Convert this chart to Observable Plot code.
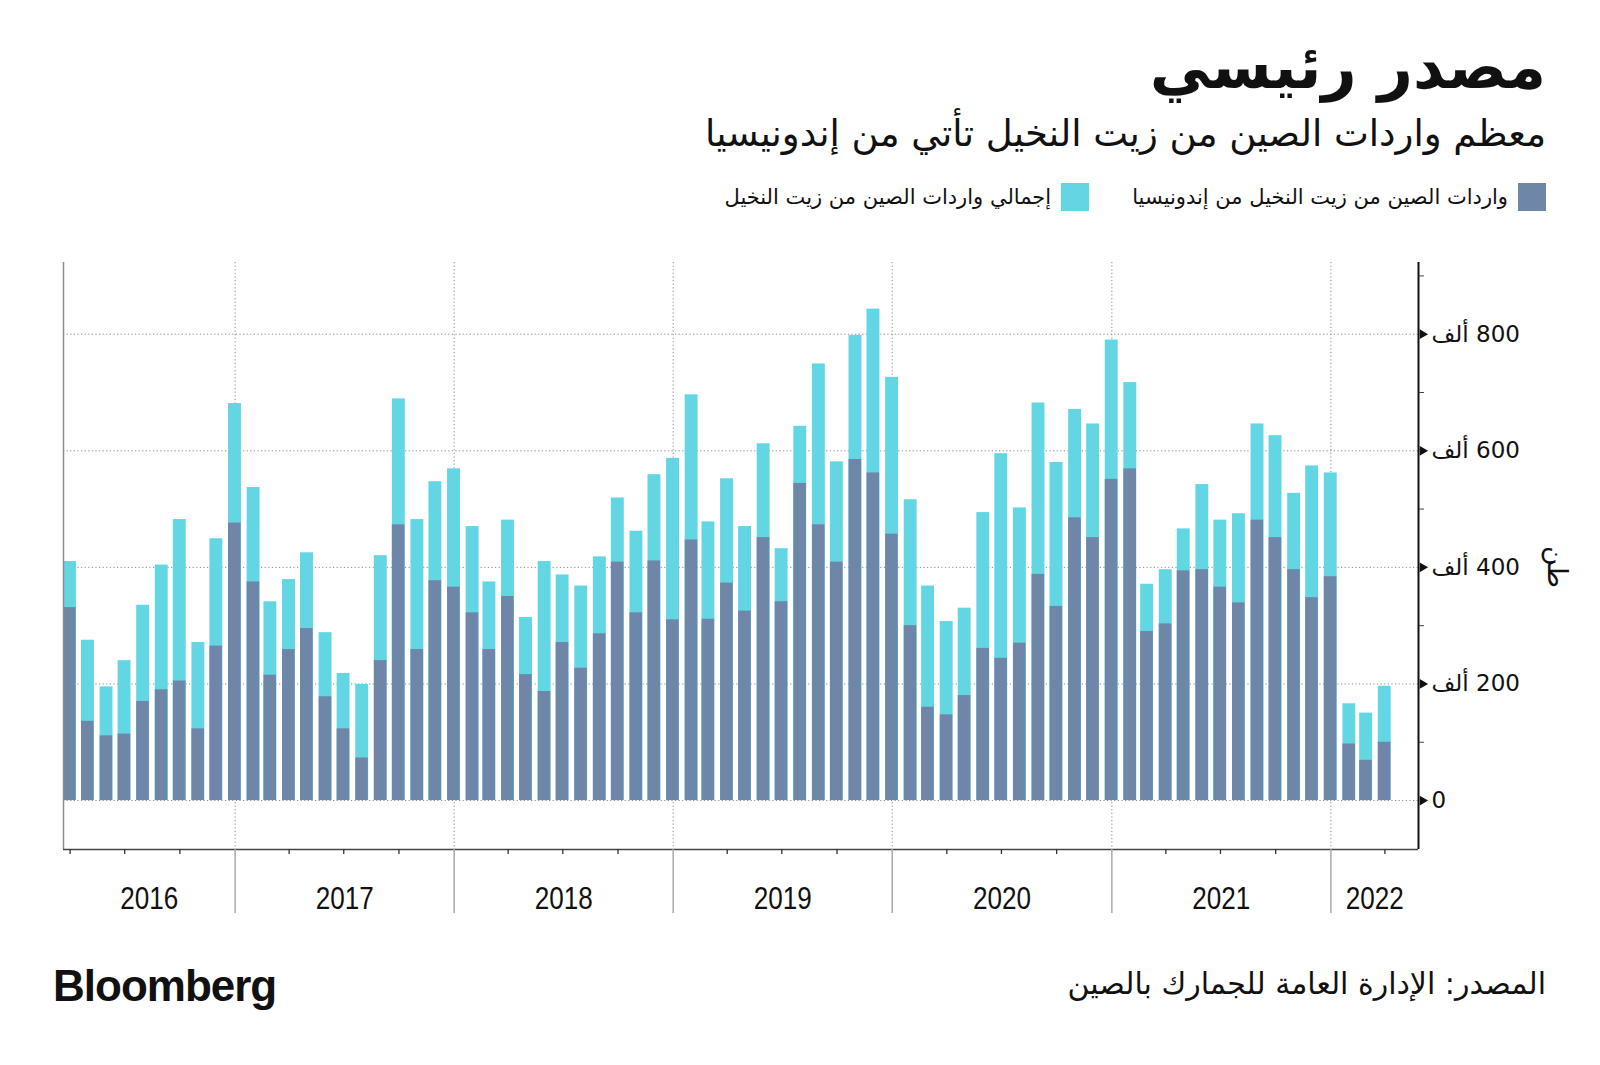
<!DOCTYPE html>
<html lang="ar">
<head>
<meta charset="utf-8">
<script src="https://cdn.jsdelivr.net/npm/d3@7"></script>
<script src="https://cdn.jsdelivr.net/npm/@observablehq/plot@0.6"></script>
<style>
  html, body { margin: 0; padding: 0; background: #fff; }
  #page { position: relative; width: 1600px; height: 1065px; overflow: hidden; font-family: "DejaVu Sans", "Noto Sans", sans-serif; color: #111; }
  .rtl { direction: rtl; position: absolute; right: 54px; white-space: nowrap; line-height: 1; }
  #title { top: 36px; font-size: 61px; font-weight: 900; }
  #subtitle { top: 115px; font-size: 37px; }
  #legend { top: 183px; display: flex; align-items: center; font-size: 21px; }
  .sw { width: 28px; height: 28px; display: inline-block; margin-left: 10px; }
  .item { display: flex; align-items: center; margin-left: 43px; }
  #source { top: 969px; font-size: 30px; }
  #brand { position: absolute; left: 53px; top: 961px; font-family: "Liberation Sans", Arial, sans-serif; font-weight: 700; font-size: 44px; letter-spacing: -1px; }
  #chart { position: absolute; left: 0; top: 240px; }
</style>
</head>
<body>
<div id="page">
  <div id="title" class="rtl">مصدر رئيسي</div>
  <div id="subtitle" class="rtl">معظم واردات الصين من زيت النخيل تأتي من إندونيسيا</div>
  <div id="legend" class="rtl"></div>
  <div id="chart"></div>
  <div id="brand">Bloomberg</div>
  <div id="source" class="rtl">المصدر: الإدارة العامة للجمارك بالصين</div>
</div>
<script>
// Monthly data, thousand tonnes (March 2016 – March 2022)
const firstMonth = "2016-03";
const lastMonth = "2022-03";
const totalImports = [410,275,195,240,335,404,482,271,449,681,537,341,379,425,288,218,199,420,689,482,547,569,470,375,481,314,410,387,368,418,519,462,559,587,696,478,552,470,612,432,642,749,581,798,843,726,516,368,307,330,494,595,502,682,580,671,646,790,717,371,396,466,542,481,492,646,626,527,574,562,166,150,196];
const indonesiaImports = [331,136,111,114,170,190,205,123,265,476,375,215,259,295,178,123,73,240,473,259,377,366,322,259,350,216,187,271,227,286,409,322,411,310,447,311,373,325,451,341,544,473,409,585,562,457,300,160,147,180,261,244,270,388,333,485,451,551,569,290,303,394,396,366,339,481,451,396,348,384,97,69,100];
const seriesNames = ["واردات الصين من زيت النخيل من إندونيسيا", "إجمالي واردات الصين من زيت النخيل"];
const seriesColors = ["#6e86a8", "#63d6e4"];
const yTicks = [0, 200, 400, 600, 800];
const yMinorTicks = [100, 300, 500, 700, 900];
const yearLabels = ["2016", "2017", "2018", "2019", "2020", "2021", "2022"];
const unitLabel = "طن";
const thousandWord = "ألف";

// Legend
const legend = document.getElementById("legend");
seriesNames.forEach((name, i) => {
  const it = document.createElement("div");
  it.className = "item";
  it.innerHTML = `<span class="sw" style="background:${seriesColors[i]}"></span><span>${name}</span>`;
  legend.appendChild(it);
});

// Build table
const parseMonth = d3.utcParse("%Y-%m");
const months = d3.utcMonth.range(parseMonth(firstMonth), d3.utcMonth.offset(parseMonth(lastMonth), 1));
const rows = months.map((m, i) => ({
  date: d3.utcHour.offset(d3.utcMonth.offset(m, 1), -12), // month end
  total: totalImports[i],
  indo: indonesiaImports[i]
}));

const xDomain = [new Date(Date.UTC(2016, 2, 21)), new Date(Date.UTC(2022, 4, 27))];
const yDomain = [-84, 923];
const yearStarts = yearLabels.map(y => new Date(Date.UTC(+y, 0, 1))).filter(d => d > xDomain[0] && d < xDomain[1]);
const quarterTicks = d3.utcMonth.every(3).range(xDomain[0], xDomain[1]).filter(d => d.getUTCMonth() !== 0);
const yearRows = yearLabels.map(y => {
  const a = new Date(Date.UTC(+y, 0, 1)), b = new Date(Date.UTC(+y + 1, 0, 1));
  const s = a < xDomain[0] ? xDomain[0] : a, e = b > xDomain[1] ? xDomain[1] : b;
  return {label: y, mid: new Date((+s + +e) / 2)};
});

const half = 252; // hours, half bar width
const dotted = {stroke: "#8a8a8a", strokeWidth: 1, strokeDasharray: "1.2,2.4"};

const chart = Plot.plot({
  width: 1600,
  height: 700,
  marginTop: 22,
  marginBottom: 91,
  marginLeft: 63,
  marginRight: 182,
  style: {background: "transparent", overflow: "visible"},
  x: {type: "utc", domain: xDomain, label: null},
  y: {domain: yDomain, label: null},
  marks: [
    Plot.ruleY(yTicks, dotted),
    Plot.ruleX(yearStarts, dotted),
    Plot.rectY(rows, {x1: d => d3.utcHour.offset(d.date, -half), x2: d => d3.utcHour.offset(d.date, half + 12), y1: 0, y2: "total", fill: seriesColors[1]}),
    Plot.rectY(rows, {x1: d => d3.utcHour.offset(d.date, -half), x2: d => d3.utcHour.offset(d.date, half), y1: 0, y2: "indo", fill: seriesColors[0]}),
    Plot.ruleX([xDomain[0]], {stroke: "#8c8c8c", strokeWidth: 1.5}),
    Plot.ruleY([yDomain[0]], {stroke: "#444", strokeWidth: 1.5}),
    Plot.ruleX([xDomain[1]], {stroke: "#111", strokeWidth: 2}),
    Plot.axisX({ticks: quarterTicks, tickSize: 5, tickFormat: () => "", stroke: "#333", strokeWidth: 1.3, label: null}),
    Plot.axisX({ticks: yearStarts, tickSize: 64, tickFormat: () => "", stroke: "#aaa", strokeWidth: 1.5, label: null}),
    Plot.text(yearRows, {x: "mid", text: "label", frameAnchor: "bottom", dy: 59, fontSize: 31, fontFamily: "Liberation Sans, sans-serif", fill: "#111"}),
    Plot.axisY({anchor: "right", ticks: yMinorTicks, tickSize: 5, tickFormat: () => "", stroke: "#444", label: null}),
    Plot.axisY({anchor: "right", ticks: yTicks, tickSize: 0, tickPadding: 13, textAnchor: "start", fontSize: 23, fontFamily: "DejaVu Sans, sans-serif", fill: "#111",
      tickFormat: d => d === 0 ? "0" : `${thousandWord}\u200E ${d}`, label: null}),
    Plot.dot(yTicks, {y: d => d, frameAnchor: "right", dx: 4, symbol: "triangle", r: 3.6, rotate: 90, fill: "#111", stroke: null}),
    Plot.text([unitLabel], {frameAnchor: "right", dx: 138, dy: 32, rotate: 90, fontSize: 27, fontFamily: "DejaVu Sans, sans-serif", fill: "#111"})
  ]
});
// Narrow the year labels to match the condensed face of the original
d3.select(chart).selectAll("text").filter(function () { return yearLabels.includes(this.textContent); })
  .attr("textLength", 58).attr("lengthAdjust", "spacingAndGlyphs");
document.getElementById("chart").appendChild(chart);
</script>
</body>
</html>
